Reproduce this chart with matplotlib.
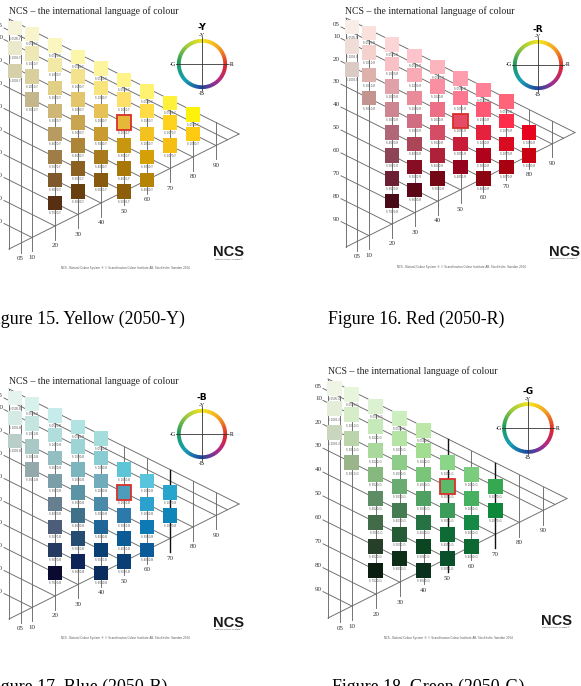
import matplotlib
matplotlib.use('Agg')
import matplotlib.pyplot as plt
from matplotlib.patches import Rectangle, Wedge
from matplotlib.colors import LinearSegmentedColormap
import numpy as np

W_PX, H_PX, DPI = 581, 686, 100
SERIF = ['Liberation Serif', 'DejaVu Serif']
SANS = ['DejaVu Sans']
LOGO = ['Liberation Sans Narrow', 'Liberation Sans', 'DejaVu Sans']

# ---------------- data ----------------
row_levels = [5, 10, 20, 30, 40, 50, 60, 70, 80, 90]     # blackness s
row_labels = ['05', '10', '20', '30', '40', '50', '60', '70', '80', '90']
col_levels = [5, 10, 20, 30, 40, 50, 60, 70, 80, 90]     # chromaticness c
col_labels = ['05', '10', '20', '30', '40', '50', '60', '70', '80', '90']

title_text = 'NCS \u2013 the international language of colour'
footer_text = ('NCS - Natural Colour System \u00ae \u00a9 Scandinavian Colour Institute AB, '
               'Stockholm, Sweden 2004')
wheel_hues = ['Y', 'Y50R', 'R', 'R50B', 'B', 'B50G', 'G', 'G50Y', 'Y']
wheel_colors = ['#f6e61c', '#f29a1e', '#e0262c', '#a8288c', '#1f4aa0',
                '#139fb2', '#1c9a5c', '#9cc83c', '#f6e61c']
highlight_s, highlight_c = 20, 50

# Yellow (2050-Y)
yellow_c = [5, 5, 5,
            10, 10, 10, 10,
            20, 20, 20, 20, 20, 20, 20, 20,
            30, 30, 30, 30, 30, 30, 30,
            40, 40, 40, 40, 40, 40,
            50, 50, 50, 50, 50, 50,
            60, 60, 60, 60, 60,
            70, 70, 70,
            80, 80]
yellow_s = [5, 10, 20,
            5, 10, 20, 30,
            5, 10, 20, 30, 40, 50, 60, 70,
            5, 10, 20, 30, 40, 50, 60,
            5, 10, 20, 30, 40, 50,
            5, 10, 20, 30, 40, 50,
            5, 10, 20, 30, 40,
            5, 10, 20,
            5, 10]
yellow_hex = ['#f5f3da', '#ebe9cb', '#d5d0aa',
              '#f8f5cc', '#eee8b4', '#dad09e', '#c4b78c',
              '#fbf6c0', '#f2e9a6', '#e1cf86', '#cdb676', '#b89b60', '#9f7d47', '#7f592c', '#572f12',
              '#fcf6aa', '#f4e38e', '#e3c66c', '#c9a552', '#ad8539', '#8b6122', '#693f10',
              '#fdf59e', '#f8e37c', '#e6c155', '#c89c2f', '#a77a1b', '#875911',
              '#fef48a', '#fce06a', '#e5b83a', '#c9960f', '#a97708', '#8d5e09',
              '#fff270', '#ffdc45', '#f2c220', '#d59f06', '#b58406',
              '#fff03a', '#ffd21e', '#f5be12',
              '#fff20a', '#ffcb12']
yellow_dark_cols = []

# Red (2050-R)
red_c = [5, 5, 5,
         10, 10, 10, 10,
         20, 20, 20, 20, 20, 20, 20, 20,
         30, 30, 30, 30, 30, 30, 30,
         40, 40, 40, 40, 40, 40,
         50, 50, 50, 50, 50,
         60, 60, 60, 60, 60,
         70, 70, 70, 70,
         80, 80]
red_s = [5, 10, 20,
         5, 10, 20, 30,
         5, 10, 20, 30, 40, 50, 60, 70,
         5, 10, 20, 30, 40, 50, 60,
         5, 10, 20, 30, 40, 50,
         5, 10, 20, 30, 40,
         5, 10, 20, 30, 40,
         5, 10, 20, 30,
         10, 20]
red_hex = ['#f9ede8', '#f0ddd8', '#dccbc5',
           '#fbe1dc', '#f3d1cd', '#ddb2ad', '#c49590',
           '#fcd5d7', '#f7c1c5', '#e1a1a9', '#cc8591', '#b06879', '#8d4457', '#6b2033', '#4a0b18',
           '#fdc5cb', '#f9abb5', '#e98b99', '#d06d81', '#ad4559', '#860d22', '#5a0616',
           '#fdb5bd', '#fa8fa1', '#ec6f85', '#d44d65', '#ae2139', '#740615',
           '#fe9dad', '#fc7991', '#e54b64', '#c81d39', '#95021d',
           '#fe8197', '#fd5975', '#e5213d', '#b1021d', '#8c0312',
           '#fe6579', '#fe2d49', '#d80b21', '#a80211',
           '#e7021d', '#c80212']
red_dark_cols = []

# Blue (2050-B)
blue_c = [5, 5, 5,
          10, 10, 10, 10,
          20, 20, 20, 20, 20, 20, 20, 20,
          30, 30, 30, 30, 30, 30, 30,
          40, 40, 40, 40, 40, 40, 40,
          50, 50, 50, 50, 50,
          60, 60, 60, 60,
          70, 70]
blue_s = [5, 10, 20,
          5, 10, 20, 30,
          5, 10, 20, 30, 40, 50, 60, 70,
          5, 10, 20, 30, 40, 50, 60,
          5, 10, 20, 30, 40, 50, 60,
          10, 20, 30, 40, 50,
          10, 20, 30, 40,
          10, 20]
blue_hex = ['#e5f3ef', '#d5e9e5', '#b9cdc9',
            '#d7f1ec', '#c5e5e1', '#a9c9c7', '#93a9ab',
            '#c5ebeb', '#b1dddd', '#93bfc3', '#7b9fa9', '#657f8f', '#4b5d79', '#253b61', '#0b0b31',
            '#b1e3e3', '#9dd5d7', '#7bb5bd', '#5b95a5', '#3f7189', '#254d71', '#0d2559',
            '#a5dddd', '#89cdd3', '#71abbc', '#4b8ba9', '#1f6595', '#093f73', '#092d5d',
            '#5dc5d5', '#4c9cbc', '#2d79a9', '#0d5b95', '#093f75',
            '#59c5dd', '#2da1cd', '#0d79b5', '#0b5b99',
            '#27a5cd', '#0d85b9']
blue_dark_cols = [70]

# Green (2050-G)
green_c = list(blue_c)
green_s = list(blue_s)
green_hex = ['#eef5e5', '#e3edd7', '#c9d5bd',
             '#e7f5dd', '#d7edc9', '#b9d5a9', '#99b589',
             '#dbf1d1', '#c5e9b9', '#a9d99d', '#85b97d', '#5d8d65', '#416b49', '#253f29', '#0b1d0f',
             '#cdefbf', '#b5e5a5', '#8dcd89', '#69ab71', '#437d51', '#255b35', '#0d2f17',
             '#bde7a9', '#a3dd91', '#79c579', '#4fa161', '#257345', '#0b4521', '#09311b',
             '#8bd589', '#5db96b', '#3b9d59', '#0f6b35', '#09512b',
             '#79cd7d', '#45b161', '#158945', '#0b6931',
             '#35a951', '#0d8939']
green_dark_cols = [50, 70]

# ---------------- layout ----------------
panels = [
    dict(hue='Y', c=yellow_c, s=yellow_s, col=yellow_hex, dark=yellow_dark_cols,
         x0=9, y0=19, k=2.30,
         title=(9, 14), wheel=(202, 64, 23.3), logo=(229, 256.5), footer=(125, 268),
         caption='Figure 15. Yellow (2050-Y)', cap_xy=(-14, 324)),
    dict(hue='R', c=red_c, s=red_s, col=red_hex, dark=red_dark_cols,
         x0=346, y0=18, k=2.29,
         title=(345, 14), wheel=(538, 65, 23.3), logo=(564, 256), footer=(461, 267),
         caption='Figure 16. Red (2050-R)', cap_xy=(328, 324)),
    dict(hue='B', c=blue_c, s=blue_s, col=blue_hex, dark=blue_dark_cols,
         x0=9, y0=389, k=2.30,
         title=(9, 384), wheel=(202, 434, 23.3), logo=(229, 627), footer=(125, 638),
         caption='Figure 17. Blue (2050-B)', cap_xy=(-14, 692)),
    dict(hue='G', c=green_c, s=green_s, col=green_hex, dark=green_dark_cols,
         x0=328, y0=379, k=2.39,
         title=(328, 374), wheel=(528, 428, 24.0), logo=(556, 625), footer=(448, 638),
         caption='Figure 18. Green (2050-G)', cap_xy=(332, 692)),
]

SQ = 6.3          # square size in grid units
SHIFT_S05 = 3.5   # display shift of the 05-blackness row (units)
SHIFT_C05 = 2.4   # display shift of the 05-chromaticness column (units)
LINE_C = '#6a6a6a'
LW = 0.65

fig = plt.figure(figsize=(W_PX / DPI, H_PX / DPI), dpi=DPI)
fig.patch.set_facecolor('white')


def tri_y(s, c):
    return s + c / 2.0


def draw_panel(P):
    x0, y0, k = P['x0'], P['y0'], P['k']
    ax = fig.add_axes([0, 0, 1, 1])
    ax.set_xlim((0 - x0) / k, (W_PX - x0) / k)
    ax.set_ylim((H_PX - y0) / k, (0 - y0) / k)
    ax.axis('off')
    ax.patch.set_alpha(0)
    # triangle edges
    ax.plot([0, 0], [0, 100], color=LINE_C, lw=LW, zorder=1)
    ax.plot([0, 100], [100, 50], color=LINE_C, lw=LW, zorder=1)
    ax.plot([0, 100], [0, 50], color=LINE_C, lw=LW, zorder=1)
    # blackness lines + labels
    for s, lab in zip(row_levels, row_labels):
        cs = [-5 / k, 100 - s]
        ax.plot(cs, [tri_y(s, cs[0]), tri_y(s, cs[1])], color=LINE_C, lw=LW, zorder=1)
        cl = -9.5 / k
        ax.text(cl, tri_y(s, cl), lab, fontsize=5.0, family=SERIF, color='#333333',
                ha='center', va='center', zorder=3)
    # chromaticness lines + labels
    for c, lab in zip(col_levels, col_labels):
        ylab = min(100 - c / 2 + 8.5, 104.3)
        dk = c in P['dark']
        ax.plot([c, c], [c / 2, ylab - 2.6], color='#111111' if dk else LINE_C,
                lw=1.0 if dk else LW, zorder=1.5 if dk else 1)
        ax.text(c, ylab, lab, fontsize=5.0, family=SERIF, color='#333333',
                ha='center', va='center', zorder=3)
    # samples
    for c, s, col in zip(P['c'], P['s'], P['col']):
        cx = c - (SHIFT_C05 if c == 5 else 0)
        cy = tri_y(s, c) - (SHIFT_S05 if s == 5 else 0)
        hl = (s == highlight_s and c == highlight_c)
        ax.add_patch(Rectangle((cx - SQ / 2, cy - SQ / 2), SQ, SQ, facecolor=col,
                               edgecolor='#d8302a' if hl else 'none',
                               lw=1.3 if hl else 0, zorder=2))
        ax.text(cx, cy + SQ / 2 + 1.4, 'S %02d%02d-%s' % (s, c, P['hue']), fontsize=2.0,
                family=SANS, color='#555555', ha='center', va='center', zorder=3)


for P in panels:
    draw_panel(P)

# overlay in pixel coordinates
ov = fig.add_axes([0, 0, 1, 1])
ov.set_xlim(0, W_PX)
ov.set_ylim(H_PX, 0)
ov.axis('off')
ov.patch.set_alpha(0)

cmap = LinearSegmentedColormap.from_list('ncs', wheel_colors)

for P in panels:
    tx, ty = P['title']
    ov.text(tx, ty, title_text, fontsize=7.0, family=SERIF, color='#222222',
            ha='left', va='baseline')
    cx, cy, r = P['wheel']
    n = 48
    for i in range(n):
        a0 = 90 - (i + 0.5) * 360.0 / n
        ov.add_patch(Wedge((cx, cy), r + 1.8, -a0 - 360.0 / n / 2 - 0.5, -a0 + 360.0 / n / 2 + 0.5,
                           width=3.8, facecolor=cmap(i / n), edgecolor='none', zorder=2))
    ov.plot([cx - 26, cx + 26], [cy, cy], color='#333333', lw=0.6, zorder=3)
    ov.plot([cx, cx], [cy - 27, cy + 26], color='#333333', lw=0.6, zorder=3)
    ov.text(cx, cy - 28.5, '-Y', fontsize=4.2, family=SERIF, ha='center', va='center')
    ov.text(cx - 29.5, cy, '-G', fontsize=4.2, family=SERIF, ha='center', va='center')
    ov.text(cx + 29.5, cy, '-R', fontsize=4.2, family=SERIF, ha='center', va='center')
    ov.text(cx, cy + 29.5, '-B', fontsize=4.2, family=SERIF, ha='center', va='center')
    ov.text(cx, cy - 36, '-' + P['hue'], fontsize=6.5, family=SANS, weight='bold',
            ha='center', va='center')
    lx, ly = P['logo']
    ov.text(lx, ly, 'NCS', fontsize=10.5, family=LOGO, weight='bold', color='#1a1a1a',
            ha='center', va='baseline')
    ov.text(lx, ly + 1.6, 'Natural Colour System\u00ae', fontsize=1.6, family=SANS,
            color='#333333', ha='center', va='top')
    fx, fy = P['footer']
    ov.text(fx, fy, footer_text, fontsize=2.0, family=SANS, color='#555555',
            ha='center', va='center')
    capx, capy = P['cap_xy']
    ov.text(capx, capy, P['caption'], fontsize=12.9, family=SERIF, color='black',
            ha='left', va='baseline')

fig.savefig('out.png', dpi=DPI, facecolor='white')
